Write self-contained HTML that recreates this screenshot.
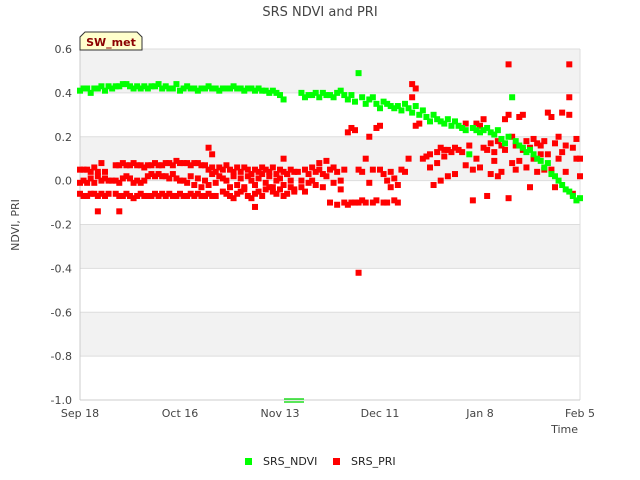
<!DOCTYPE html>
<html><head><meta charset="utf-8"><style>
body{margin:0;background:#fff;}
svg{display:block;font-family:"DejaVu Sans","Liberation Sans",sans-serif;}
</style></head><body>
<svg id="chart" width="640" height="480">
<text x="320" y="16" text-anchor="middle" font-size="13" fill="#444">SRS NDVI and PRI</text>
<g id="bands"></g>
<g id="grid"></g>
<g id="yticks"></g>
<g id="xticks"></g>
<text x="19" y="225" text-anchor="middle" font-size="11" fill="#444" transform="rotate(-90 19 225)">NDVI, PRI</text>
<text x="578" y="433" text-anchor="end" font-size="11" fill="#444">Time</text>
<g id="pri"></g>
<g id="ndvi"></g>
<g><line x1="284" y1="399" x2="304" y2="399" stroke="#22dd22" stroke-width="1.5"/><line x1="284" y1="402" x2="304" y2="402" stroke="#22dd22" stroke-width="1.5"/></g>
<g>
<path d="M80,50 L80,37 L85,32 L137,32 L142,37 L142,50 Z" fill="#ffffcc" stroke="#333" stroke-width="1"/>
<text x="111" y="46" text-anchor="middle" font-size="11" font-weight="bold" fill="#8b0000">SW_met</text></g>
<g>
<rect x="245" y="458" width="7" height="7" fill="#00ff00"/>
<text x="263" y="465" font-size="11" fill="#222">SRS_NDVI</text>
<rect x="333" y="458" width="7" height="7" fill="#ff0000"/>
<text x="351" y="465" font-size="11" fill="#222">SRS_PRI</text></g>
</svg>
<script>
const yTicks=[0.6,0.4,0.2,0,-0.2,-0.4,-0.6,-0.8,-1.0];
const xTickLabels=["Sep 18","Oct 16","Nov 13","Dec 11","Jan 8","Feb 5"];
const xTickDays=[0,28,56,84,112,140];
const ndvi=[0.41,0.42,0.42,0.40,0.42,0.42,0.43,0.41,0.43,0.42,0.43,
0.43,0.44,0.44,0.43,0.42,0.43,0.42,0.43,0.42,0.43,
0.43,0.44,0.42,0.43,0.42,0.42,0.44,0.41,0.42,0.43,
0.42,0.42,0.41,0.42,0.42,0.43,0.42,0.42,0.41,0.42,
0.42,0.42,0.43,0.42,0.42,0.41,0.42,0.42,0.41,0.42,
0.41,0.41,0.40,0.41,0.40,0.39,0.37,null,null,null,null,
0.40,0.38,0.39,0.39,0.40,0.38,0.40,0.39,0.39,
0.38,0.40,0.41,0.39,0.37,0.39,0.36,0.49,0.38,0.35,
0.37,0.38,0.35,0.33,0.36,0.35,0.34,0.33,0.34,0.32,
0.35,0.33,0.31,0.34,0.30,0.32,0.29,0.27,0.30,0.28,
0.27,0.26,0.28,0.25,0.27,0.25,0.24,0.23,0.12,0.24,
0.23,0.22,0.23,0.24,0.22,0.21,0.23,0.19,0.17,0.20,
0.38,0.18,0.16,0.15,0.13,0.14,0.12,0.10,0.09,0.06,
0.08,0.03,0.02,0.00,-0.02,-0.04,-0.05,-0.07,-0.09,-0.08];
const priUpper=[0.05,0.05,0.05,0.04,0.06,0.04,0.08,0.04,null,null,0.07,0.07,0.08,0.07,0.07,0.08,0.07,0.07,0.06,0.07,0.07,0.08,0.07,0.07,0.08,0.08,0.07,0.09,0.08,0.08,0.08,0.07,0.08,0.08,0.07,0.07,0.05,0.06,0.04,0.06,0.05,0.07,0.05,0.04,0.06,0.04,0.06,0.05,0.03,0.05,0.04,0.06,0.05,0.04,0.06,0.03,0.05,0.04,0.03,0.05,0.04];
const priMid=[-0.01,0.00,-0.01,0.01,-0.01,0.02,0.00,0.01,0.00,0.00,0.00,-0.01,0.01,0.02,0.01,-0.01,0.00,-0.01,0.00,0.02,0.03,0.02,0.03,0.02,0.02,0.01,0.03,0.01,0.00,0.00,-0.01,0.02,-0.02,0.01,-0.03,0.00,-0.02,0.03,-0.01,0.02,0.01,0.00,-0.03,0.02,-0.02,0.01,-0.03,0.02,0.00,-0.02,0.01,0.03,-0.01,0.02,-0.03,0.00,0.01,-0.02,0.03,0.00,-0.04];
const priLow=[-0.06,-0.07,-0.07,-0.06,-0.06,-0.07,-0.06,-0.07,-0.06,null,-0.06,-0.07,-0.07,-0.06,-0.07,-0.08,-0.07,-0.06,-0.07,-0.07,-0.07,-0.06,-0.07,-0.06,-0.07,-0.06,-0.07,-0.07,-0.06,-0.07,-0.07,-0.06,-0.07,-0.06,-0.07,-0.07,-0.06,-0.07,-0.07,null,-0.05,-0.06,-0.07,-0.08,-0.06,-0.05,-0.04,-0.07,-0.08,-0.06,-0.05,-0.07,-0.04,-0.03,-0.05,-0.06,-0.04,-0.07,-0.06,-0.03,-0.05];
const priExtraDays=[5,11,36,37,49,57,61,62,62,63,63,64,64,65,65,66,66,67,67,68,68,69,69,70,70,71,71,72,72,73,73,74,74,75,75,76,76,77,77,78,78,78,79,79,80,80,81,81,82,82,83,83,84,84,85,85,86,86,87,87,88,88,89,89,90,91,92,93,93,94,94,95,96,97,98,98,99,100,100,101,101,102,102,103,103,104,105,105,106,107,108,108,109,110,110,111,111,112,112,113,113,114,114,115,115,116,116,117,117,118,118,119,119,120,120,120,121,121,122,122,123,123,124,124,125,125,126,126,127,127,128,128,129,129,130,130,131,131,132,132,133,133,134,134,135,135,136,136,137,137,137,138,138,139,139,140,140];
const priExtraVals=[-0.14,-0.14,0.15,0.12,-0.12,0.1,0.04,0.0,-0.03,0.05,-0.05,0.03,-0.01,0.06,0.0,0.04,-0.02,0.05,0.08,0.03,-0.03,0.09,0.02,0.05,-0.1,0.06,-0.01,0.04,-0.11,0.0,-0.04,0.05,-0.1,0.22,-0.11,0.24,-0.1,0.23,-0.1,0.05,-0.42,-0.1,0.04,-0.09,0.1,-0.1,0.2,-0.01,0.05,-0.1,0.24,-0.09,0.25,0.05,0.03,-0.1,-0.1,0.0,0.04,-0.03,-0.09,0.01,-0.02,-0.1,0.05,0.04,0.1,0.44,0.38,0.25,0.42,0.26,0.1,0.11,0.12,0.06,-0.02,0.13,0.08,0.15,0.0,0.14,0.11,0.02,0.14,0.13,0.03,0.15,0.14,0.13,0.26,0.07,0.16,0.05,-0.09,0.1,0.26,0.25,0.06,0.15,0.28,0.14,-0.07,0.03,0.17,0.09,0.13,0.18,0.02,0.16,0.04,0.28,0.14,0.53,0.3,-0.08,0.2,0.08,0.16,0.05,0.29,0.09,0.3,0.14,0.18,0.06,0.15,-0.03,0.1,0.19,0.17,0.04,0.16,0.12,0.05,0.18,0.31,0.12,0.29,0.05,0.17,-0.03,0.1,0.2,0.31,0.13,0.16,0.04,0.53,0.38,0.3,0.15,-0.06,0.1,0.19,0.02,0.1];

const X0=80,X1=580,Y0=49,Y1=400,DMAX=140;
const xs=d=>X0+(X1-X0)*d/DMAX;
const ys=v=>Y1-(Y1-Y0)*(v+1.0)/1.6;
const NS="http://www.w3.org/2000/svg";
function mk(tag,attrs,parent){const e=document.createElementNS(NS,tag);for(const k in attrs)e.setAttribute(k,attrs[k]);parent.appendChild(e);return e;}
const bands=document.getElementById('bands');
for(let i=0;i<yTicks.length-1;i++){
  if(i%2===0){const r=mk('rect',{x:X0,y:ys(yTicks[i]),width:X1-X0,height:ys(yTicks[i+1])-ys(yTicks[i]),fill:'#f2f2f2'},bands);
  
  }
}
const grid=document.getElementById('grid');
const yt=document.getElementById('yticks');
yTicks.forEach(v=>{
  const l=mk('line',{x1:X0,x2:X1,y1:ys(v),y2:ys(v),stroke:'#dddddd','stroke-width':1},grid);
  
  
  const t=mk('text',{x:72,y:ys(v)+4,'text-anchor':'end','font-size':11,fill:'#444'},yt);
  t.textContent=v.toFixed(1);
  
  
});
mk('line',{x1:X0,x2:X0,y1:Y0,y2:Y1,stroke:'#ccc'},grid);
mk('line',{x1:X1,x2:X1,y1:Y0,y2:Y1,stroke:'#ddd'},grid);
mk('line',{x1:X0,x2:X1,y1:Y1,y2:Y1,stroke:'#ccc'},grid);
const xt=document.getElementById('xticks');
xTickLabels.forEach((lab,i)=>{
  const t=mk('text',{x:xs(xTickDays[i]),y:417,'text-anchor':'middle','font-size':11,fill:'#444'},xt);
  t.textContent=lab;
  
  
});
function pt(g,d,v,color){
  const r=mk('rect',{x:xs(d)-3,y:ys(v)-3,width:6,height:6,fill:color},g);
  
  
}
const gp=document.getElementById('pri');
[priUpper,priMid,priLow].forEach(arr=>arr.forEach((v,d)=>{if(v!==null)pt(gp,d,v,'#ff0000');}));
priExtraDays.forEach((d,i)=>pt(gp,d,priExtraVals[i],'#ff0000'));
const gn=document.getElementById('ndvi');
ndvi.forEach((v,d)=>{if(v!==null)pt(gn,d,v,'#00ff00');});
</script>
</body></html>
